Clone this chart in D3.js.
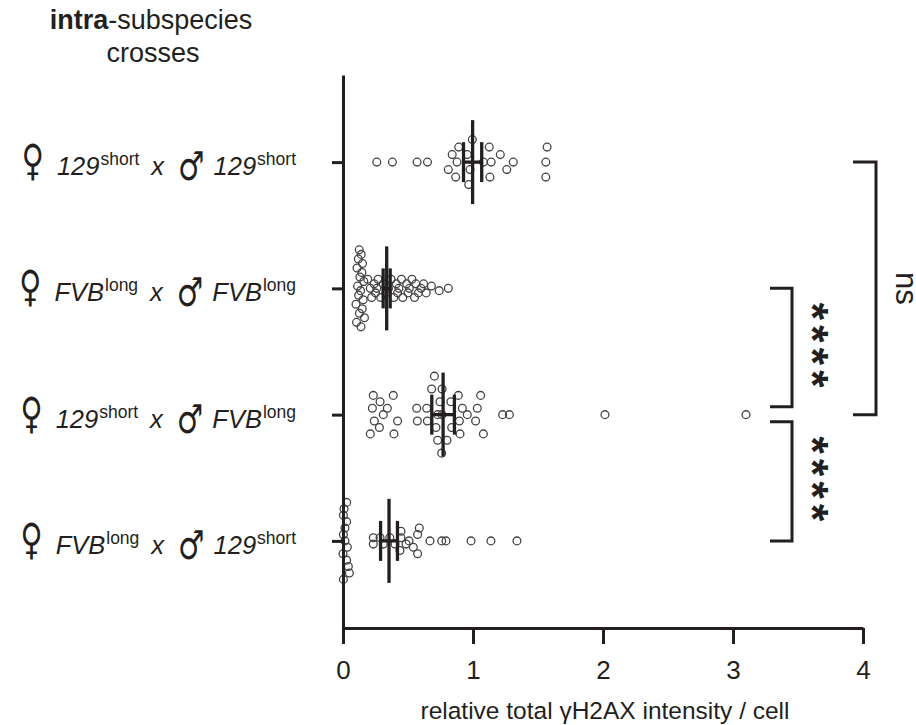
<!DOCTYPE html>
<html>
<head>
<meta charset="utf-8">
<script src="https://cdn.jsdelivr.net/npm/d3@7"></script>
<style>
  body { margin: 0; background: #fff; }
  text { font-family: "Liberation Sans", Arial, sans-serif; fill: #231f20; }
</style>
</head>
<body>
<svg id="chart" width="916" height="725"></svg>
<script>
// Row labels (female x male)
const femaleStrain = ["129", "FVB", "129", "FVB"];
const femaleSup = ["short", "long", "short", "long"];
const maleStrain = ["129", "FVB", "FVB", "129"];
const maleSup = ["short", "long", "long", "short"];

// Per-cell values (order inside a bin = top to bottom)
const vals129x129 = [0.26, 0.38, 0.57, 0.65, 0.84, 0.81, 0.89, 0.877, 0.867, 0.995, 0.956, 0.977, 0.967,
  1.08, 1.125, 1.14, 1.13, 1.21, 1.26, 1.31, 1.57, 1.56, 1.56];
const valsFVBxFVB = [0.125, 0.14, 0.118, 0.15, 0.108, 0.145, 0.13, 0.16, 0.112, 0.135, 0.12, 0.155, 0.1, 0.148,
  0.126, 0.165, 0.104, 0.138, 0.19, 0.24, 0.21, 0.25, 0.22, 0.27, 0.31, 0.26, 0.33, 0.29,
  0.37, 0.41, 0.35, 0.42, 0.39, 0.45, 0.49, 0.43, 0.5, 0.46, 0.53, 0.56, 0.51, 0.58, 0.55,
  0.62, 0.6, 0.64, 0.68, 0.74, 0.81];
const vals129xFVB = [0.233, 0.226, 0.241, 0.21, 0.285, 0.31, 0.28, 0.387, 0.341, 0.42, 0.392, 0.567, 0.572,
  0.644, 0.649, 0.703, 0.682, 0.746, 0.728, 0.715, 0.728, 0.759, 0.762, 0.83, 0.762, 0.836, 0.8,
  0.887, 0.918, 0.895, 0.9, 0.956, 1.059, 1.033, 1.02, 1.08, 1.228, 1.28, 2.015, 3.1];
const valsFVBx129 = [0.028, 0.008, 0.003, 0.028, 0.015, 0.003, 0.015, 0.033, 0.0, 0.028, 0.041, 0.049, 0.003,
  0.233, 0.233, 0.285, 0.31, 0.36, 0.40, 0.446, 0.446, 0.485, 0.438, 0.587, 0.574, 0.508, 0.541, 0.574,
  0.669, 0.759, 0.792, 0.985, 1.138, 1.338];
const rowValues = [vals129x129, valsFVBxFVB, vals129xFVB, valsFVBx129];

// Mean and SEM bars
const means = [0.997, 0.336, 0.77, 0.354];
const sems = [0.07, 0.027, 0.087, 0.065];

// Significance brackets
const compFrom = [0, 1, 2];
const compTo = [2, 2, 3];
const compLabel = ["ns", "****", "****"];
const compLevel = [1, 0, 0];

const xTicks = [0, 1, 2, 3, 4];

const ink = "#231f20";
const svg = d3.select("#chart");

const x = d3.scaleLinear().domain([0, 4]).range([343, 863]);
const y = d3.scalePoint().domain(d3.range(4)).range([75, 628]).padding(0.69);

drawTitle();
drawPoints();
drawMeans();
drawAxes();
drawLabels();
drawBrackets();

function drawTitle() {
    const t = svg.append("text").attr("x", 151).attr("y", 29)
        .attr("text-anchor", "middle").style("font-size", "27px");
    t.append("tspan").style("font-weight", "bold").text("intra");
    t.append("tspan").text("-subspecies");
    svg.append("text").attr("x", 153).attr("y", 62)
        .attr("text-anchor", "middle").style("font-size", "27px").text("crosses");
}

// Prism-like scatter: bin along x, stack each bin around the row centre
function swarm(values) {
    const binW = 11, maxSpan = 77, maxStep = 15;
    const bins = d3.group(values, v => Math.floor((x(v) - x(0)) / binW));
    const maxN = d3.max(bins.values(), b => b.length);
    const step = maxN > 1 ? Math.min(maxStep, maxSpan / (maxN - 1)) : 0;
    const out = [];
    for (const b of bins.values()) {
        b.forEach((v, k) => out.push({ v, dy: (k - (b.length - 1) / 2) * step }));
    }
    return out;
}

function drawPoints() {
    rowValues.forEach((vals, i) => {
        svg.append("g").selectAll("circle")
            .data(swarm(vals))
            .join("circle")
            .attr("cx", d => x(d.v))
            .attr("cy", d => y(i) + d.dy)
            .attr("r", 3.9)
            .attr("fill", "none")
            .attr("stroke", "#444")
            .attr("stroke-width", 1.3);
    });
}

function drawMeans() {
    const g = svg.append("g").attr("stroke", ink).attr("stroke-width", 3.3);
    means.forEach((m, i) => {
        const cy = y(i), lo = m - sems[i], hi = m + sems[i];
        g.append("line").attr("x1", x(m)).attr("x2", x(m)).attr("y1", cy - 42).attr("y2", cy + 42);
        [lo, hi].forEach(v => g.append("line").attr("x1", x(v)).attr("x2", x(v))
            .attr("y1", cy - 20).attr("y2", cy + 20));
        g.append("line").attr("x1", x(lo)).attr("x2", x(hi)).attr("y1", cy).attr("y2", cy);
    });
}

function drawAxes() {
    const gx = svg.append("g").attr("transform", `translate(0,${y.range()[1]})`)
        .call(d3.axisBottom(x).tickValues(xTicks).tickFormat(d3.format("d"))
            .tickSize(16).tickSizeOuter(0).tickPadding(17));
    gx.selectAll("text").style("font-size", "26px").attr("fill", ink);

    const gy = svg.append("g").attr("transform", `translate(${x(0)},0)`)
        .call(d3.axisLeft(y).tickSize(11).tickSizeOuter(0).tickFormat(""));

    [gx, gy].forEach(g => {
        g.selectAll("path, line").attr("stroke", ink).attr("stroke-width", 3);
    });

    svg.append("text").attr("x", (x(0) + x(4)) / 2 + 2).attr("y", 719)
        .attr("text-anchor", "middle").style("font-size", "24.5px")
        .text("relative total γH2AX intensity / cell");
}

function drawLabels() {
    d3.range(4).forEach(i => {
        const parts = [
            { t: "\u2640", kind: "sym", gap: 0, sx: 0.85, sy: 1.2, dy: 0 },
            { t: femaleStrain[i], kind: "it", gap: 13 },
            { t: femaleSup[i], kind: "sup", gap: 1 },
            { t: "x", kind: "it", gap: 12 },
            { t: "\u2642", kind: "sym", gap: 14, sx: 0.82, sy: 1.1, dy: 5 },
            { t: maleStrain[i], kind: "it", gap: 9 },
            { t: maleSup[i], kind: "sup", gap: 1 }
        ];
        const grp = svg.append("g");
        let cx = 0;
        parts.forEach(p => {
            cx += p.gap;
            const el = grp.append("text").text(p.t);
            if (p.kind === "sym") {
                el.style("font-family", "'DejaVu Sans', sans-serif").style("font-size", "36px")
                    .attr("transform", `translate(${cx},${p.dy}) scale(${p.sx},${p.sy})`);
                cx += el.node().getComputedTextLength() * p.sx;
                return;
            }
            el.attr("x", cx);
            if (p.kind === "it") {
                el.style("font-style", "italic").style("font-size", "25.5px");
            } else {
                el.attr("y", -10).style("font-size", "17.5px");
            }
            cx += el.node().getComputedTextLength();
        });
        grp.attr("transform", `translate(${296 - cx},${y(i) + 13})`);
    });
}

function drawBrackets() {
    const armX = [770, 853], vertX = [792, 876], textX = [797, 896];
    const g = svg.append("g");
    compLabel.forEach((lab, k) => {
        const lv = compLevel[k];
        let y1 = y(compFrom[k]), y2 = y(compTo[k]);
        // leave a small gap where two brackets on the same level meet
        compLabel.forEach((_, j) => {
            if (j === k || compLevel[j] !== lv) return;
            if (compTo[j] === compFrom[k]) y1 += 7;
            if (compFrom[j] === compTo[k]) y2 -= 8;
        });
        g.append("path")
            .attr("d", `M${armX[lv]},${y1}H${vertX[lv]}V${y2}H${armX[lv]}`)
            .attr("fill", "none").attr("stroke", ink).attr("stroke-width", 3);
        const t = g.append("text")
            .attr("transform", `translate(${textX[lv]},${(y1 + y2) / 2}) rotate(90)`)
            .attr("text-anchor", "middle").text(lab);
        if (lab === "ns") t.style("font-size", "31px");
        else t.style("font-size", "45px").style("font-weight", "bold").style("letter-spacing", "5px");
    });
}
</script>
</body>
</html>
